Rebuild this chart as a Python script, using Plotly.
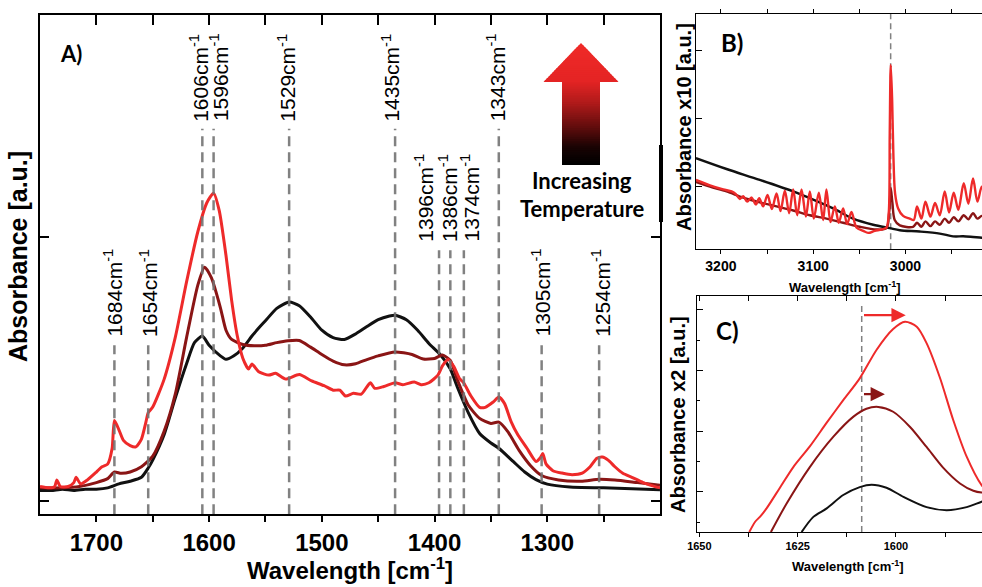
import plotly.graph_objects as go

W, H = 982, 587

# ---------------- DATA ----------------
# Panel A (1750-1200 cm-1)
a_black_wn = [1750, 1740, 1730, 1720, 1710, 1700, 1690, 1680, 1670, 1660, 1654, 1650, 1640, 1630, 1620, 1613, 1606,
              1600, 1590, 1585, 1578, 1570, 1562, 1555, 1550, 1540, 1529, 1520, 1510, 1500, 1490, 1480, 1470, 1460,
              1450, 1440, 1435, 1425, 1415, 1405, 1395, 1386, 1380, 1370, 1360, 1350, 1343, 1330, 1320, 1310, 1300,
              1280, 1250, 1225, 1200]
a_black_val = [0.04, 0.04, 0.045, 0.04, 0.045, 0.045, 0.05, 0.065, 0.075, 0.09, 0.125, 0.155, 0.25, 0.39, 0.52, 0.60,
               0.625, 0.59, 0.55, 0.537, 0.55, 0.58, 0.625, 0.66, 0.683, 0.73, 0.754, 0.74, 0.697, 0.647, 0.619, 0.612,
               0.633, 0.661, 0.687, 0.701, 0.704, 0.687, 0.647, 0.597, 0.555, 0.50, 0.434, 0.334, 0.256, 0.22, 0.20,
               0.149, 0.11, 0.081, 0.064, 0.053, 0.05, 0.047, 0.043]

a_dark_wn = [1750, 1730, 1715, 1700, 1690, 1684, 1678, 1670, 1660, 1650, 1640, 1630, 1620, 1610, 1604, 1598, 1590,
             1585, 1580, 1570, 1560, 1550, 1540, 1530, 1520, 1510, 1500, 1490, 1480, 1470, 1460, 1450, 1435, 1420,
             1410, 1400, 1393, 1386, 1380, 1370, 1360, 1350, 1343, 1335, 1325, 1315, 1305, 1290, 1270, 1254, 1240,
             1220, 1200]
a_dark_val = [0.05, 0.05, 0.055, 0.07, 0.085, 0.11, 0.105, 0.11, 0.13, 0.17, 0.263, 0.405, 0.619, 0.818, 0.886, 0.846,
              0.733, 0.647, 0.612, 0.593, 0.588, 0.59, 0.60, 0.607, 0.608, 0.583, 0.555, 0.53, 0.516, 0.52, 0.536,
              0.55, 0.565, 0.555, 0.538, 0.54, 0.553, 0.533, 0.462, 0.363, 0.313, 0.294, 0.299, 0.263, 0.192, 0.135,
              0.097, 0.08, 0.075, 0.083, 0.08, 0.07, 0.06]

a_red_wn = [1750, 1742, 1737, 1735, 1732, 1725, 1720, 1718, 1714, 1708, 1700, 1695, 1690, 1686, 1684, 1680, 1676,
            1670, 1665, 1660, 1656, 1654, 1650, 1640, 1630, 1620, 1610, 1602, 1596, 1591, 1585, 1580, 1575, 1570,
            1565, 1562, 1556, 1547, 1541, 1532, 1520, 1509, 1498, 1490, 1484, 1479, 1472, 1465, 1457, 1453, 1445,
            1435, 1428, 1418, 1412, 1405, 1397, 1393, 1388, 1383, 1378, 1374, 1368, 1360, 1355, 1348, 1343, 1338,
            1332, 1326, 1318, 1310, 1306, 1304, 1301, 1295, 1287, 1278, 1269, 1262, 1256, 1251, 1246, 1240, 1233,
            1225, 1215, 1203, 1200]
a_red_val = [0.055, 0.05, 0.055, 0.08, 0.055, 0.055, 0.07, 0.09, 0.065, 0.08, 0.11, 0.13, 0.14, 0.2, 0.305, 0.27,
             0.23, 0.21, 0.205, 0.235, 0.30, 0.335, 0.356, 0.46, 0.62, 0.83, 1.02, 1.13, 1.166, 1.10, 0.93, 0.76,
             0.626, 0.54, 0.50, 0.519, 0.49, 0.477, 0.484, 0.462, 0.479, 0.455, 0.437, 0.42, 0.42, 0.398, 0.408,
             0.405, 0.448, 0.427, 0.434, 0.448, 0.441, 0.451, 0.441, 0.448, 0.477, 0.512, 0.536, 0.51, 0.465, 0.447,
             0.40, 0.355, 0.355, 0.375, 0.394, 0.37, 0.30, 0.25, 0.20, 0.15, 0.165, 0.18, 0.14, 0.115, 0.106, 0.10,
             0.106, 0.13, 0.162, 0.167, 0.155, 0.13, 0.105, 0.09, 0.07, 0.053, 0.05]

peak_wn = [1684, 1654, 1606, 1596, 1529, 1435, 1396, 1386, 1374, 1343, 1305, 1254]
peak_labels = ["1684cm<sup>-1</sup>", "1654cm<sup>-1</sup>", "1606cm<sup>-1</sup>", "1596cm<sup>-1</sup>",
               "1529cm<sup>-1</sup>", "1435cm<sup>-1</sup>", "1396cm<sup>-1</sup>", "1386cm<sup>-1</sup>",
               "1374cm<sup>-1</sup>", "1343cm<sup>-1</sup>", "1305cm<sup>-1</sup>", "1254cm<sup>-1</sup>"]
peak_group = ["low", "low", "high", "high", "high", "high", "mid", "mid", "mid", "high", "low", "low"]

# Panel B (3227-2917 cm-1), absorbance x10
b_red_wn = [3227.1, 3211.9, 3197.5, 3188.4, 3183.8, 3179.4, 3175.8, 3171.5, 3166.8, 3162.1, 3158.5, 3154.2, 3149.5,
            3144.8, 3139.7, 3135.4, 3130.7, 3126.0, 3121.7, 3117.3, 3112.6, 3107.9, 3103.6, 3099.3, 3093.9, 3089.2,
            3085.6, 3081.2, 3076.5, 3072.2, 3067.5, 3063.2, 3058.5, 3053.1, 3045.8, 3040.4, 3033.2, 3026.0, 3020.6,
            3018.1, 3017.0, 3015.9, 3014.4, 3013.0, 3011.2, 3007.9, 3002.5, 2995.3, 2991.0, 2987.4, 2982.7, 2978.3,
            2972.9, 2967.9, 2962.8, 2957.4, 2952.7, 2947.7, 2942.6, 2936.8, 2931.8, 2926.7, 2922.0, 2917.3, 2913.0]
b_red_val = [1.09, 1.01, 0.95, 0.92, 0.88, 0.81, 0.85, 0.77, 0.83, 0.73, 0.82, 0.70, 0.87, 0.66, 0.89, 0.63, 0.93,
             0.60, 0.95, 0.57, 0.95, 0.55, 0.92, 0.52, 0.90, 0.50, 0.95, 0.47, 0.70, 0.46, 0.67, 0.44, 0.62, 0.39,
             0.34, 0.31, 0.34, 0.36, 0.39, 0.60, 1.78, 2.78, 2.27, 1.43, 0.89, 0.67, 0.56, 0.52, 0.50, 0.70, 0.52,
             0.77, 0.55, 0.75, 0.57, 0.92, 0.61, 0.90, 0.65, 1.04, 0.74, 1.11, 0.77, 0.99, 0.80]

b_dark_wn = [3227.1, 3211.9, 3193.9, 3175.8, 3157.8, 3139.7, 3121.7, 3103.6, 3085.6, 3067.5, 3049.5, 3031.4, 3020.6,
             3017.7, 3015.9, 3014.1, 3011.6, 3006.1, 2991.7, 2987.4, 2982.7, 2978.3, 2972.9, 2967.9, 2962.8, 2957.4,
             2952.7, 2947.7, 2942.6, 2936.8, 2931.8, 2926.7, 2922.0, 2917.3, 2913.0]
b_dark_val = [1.06, 0.99, 0.92, 0.83, 0.76, 0.70, 0.64, 0.57, 0.52, 0.46, 0.40, 0.36, 0.38, 0.60, 0.97, 0.75, 0.50,
              0.42, 0.40, 0.46, 0.40, 0.48, 0.41, 0.48, 0.43, 0.52, 0.46, 0.54, 0.48, 0.57, 0.51, 0.60, 0.52, 0.56,
              0.53]

b_black_wn = [3227.1, 3193.9, 3157.8, 3121.7, 3100.0, 3078.3, 3056.7, 3035.0, 3017.0, 3006.1, 2984.5, 2962.8,
              2948.4, 2937.5, 2926.7, 2917.3, 2913.0]
b_black_val = [1.41, 1.25, 1.09, 0.92, 0.80, 0.67, 0.52, 0.43, 0.38, 0.35, 0.33, 0.30, 0.26, 0.26, 0.25, 0.24, 0.24]

b_marker_wn = 3016

# Panel C (1650-1578 cm-1), absorbance x2
c_red_wn = [1637.3, 1635.8, 1634.6, 1632.9, 1629.5, 1626.1, 1621.9, 1617.6, 1613.4, 1609.2, 1604.9, 1600.7, 1597.7,
            1594.7, 1592.2, 1588.8, 1585.4, 1582.0, 1578.2, 1577.0]
c_red_val = [-0.66, -0.49, -0.41, -0.27, 0.07, 0.41, 0.75, 1.14, 1.51, 1.87, 2.34, 2.68, 2.80, 2.72, 2.45, 1.88,
             1.18, 0.58, 0.11, 0.03]
c_dark_wn = [1631.8, 1627.8, 1621.9, 1615.9, 1610.8, 1607.5, 1604.5, 1600.7, 1596.4, 1592.2, 1588.0, 1583.7, 1580.3,
             1578.2, 1577.0]
c_dark_val = [-0.66, -0.19, 0.41, 0.91, 1.24, 1.37, 1.40, 1.32, 1.07, 0.74, 0.40, 0.14, 0.02, -0.01, -0.01]
c_black_wn = [1624.0, 1621.0, 1617.6, 1613.4, 1609.2, 1606.2, 1602.4, 1598.1, 1592.2, 1587.1, 1582.0, 1578.2, 1577.0]
c_black_val = [-0.66, -0.41, -0.27, -0.05, 0.08, 0.12, 0.07, -0.08, -0.25, -0.30, -0.25, -0.16, -0.14]

c_marker_wn = 1608.7
c_shift_red = (1608.5, 1597.5)
c_shift_dark = (1608.5, 1602.8)

# ---------------- STYLE ----------------
RED = "#ee2a2a"
DARK = "#8a1515"
BLACK = "#111111"
GRAY = "rgba(115,115,115,0.9)"
ARIAL = "Liberation Sans"
CAL = "Lato"

label_xshift = [-1.5, 0, -4, 5, -3, -5, -15, -3, 6, -3, -1, 2]
levels = {"high": (1.41, 1.43), "mid": (0.95, 0.975), "low": (0.59, 0.615)}


def px(x):
    return x / W


def py(y):
    return 1 - y / H


fig = go.Figure()

# Panel A curves
for wn, val, col in [(a_black_wn, a_black_val, BLACK), (a_dark_wn, a_dark_val, DARK), (a_red_wn, a_red_val, RED)]:
    fig.add_trace(go.Scatter(x=wn, y=val, mode="lines", line=dict(color=col, width=3, shape="spline", smoothing=0.6),
                             xaxis="x", yaxis="y", showlegend=False, hoverinfo="skip"))

annotations = []
for wn, lab, grp, xs in zip(peak_wn, peak_labels, peak_group, label_xshift):
    top, lab_y = levels[grp]
    fig.add_trace(go.Scatter(x=[wn, wn], y=[-0.05, top], mode="lines",
                             line=dict(color=GRAY, width=2.5, dash="10px,6px"),
                             xaxis="x", yaxis="y", showlegend=False, hoverinfo="skip"))
    annotations.append(dict(x=wn, y=lab_y, xref="x", yref="y", text=lab, textangle=-90, showarrow=False,
                            xanchor="center", yanchor="bottom", xshift=xs,
                            font=dict(family=ARIAL, size=21, color="black")))

# Panel B curves
fig.add_trace(go.Scatter(x=[b_marker_wn, b_marker_wn], y=[0.07, 3.53], mode="lines",
                         line=dict(color=GRAY, width=1.5, dash="6px,4px"), xaxis="x2", yaxis="y2",
                         showlegend=False, hoverinfo="skip"))
for wn, val, col in [(b_black_wn, b_black_val, BLACK), (b_dark_wn, b_dark_val, DARK), (b_red_wn, b_red_val, RED)]:
    fig.add_trace(go.Scatter(x=wn, y=val, mode="lines", line=dict(color=col, width=2.4, shape="spline", smoothing=0.9),
                             xaxis="x2", yaxis="y2", showlegend=False, hoverinfo="skip"))

# Panel C curves
fig.add_trace(go.Scatter(x=[c_marker_wn, c_marker_wn], y=[-0.66, 3.12], mode="lines",
                         line=dict(color=GRAY, width=1.5, dash="6px,4px"), xaxis="x3", yaxis="y3",
                         showlegend=False, hoverinfo="skip"))
for wn, val, col in [(c_black_wn, c_black_val, BLACK), (c_dark_wn, c_dark_val, DARK), (c_red_wn, c_red_val, RED)]:
    fig.add_trace(go.Scatter(x=wn, y=val, mode="lines", line=dict(color=col, width=2, shape="spline", smoothing=0.8),
                             xaxis="x3", yaxis="y3", showlegend=False, hoverinfo="skip"))

# dummy traces for top-tick overlay axes
fig.add_trace(go.Scatter(x=[None], y=[None], xaxis="x4", yaxis="y", showlegend=False, hoverinfo="skip"))
fig.add_trace(go.Scatter(x=[None], y=[None], xaxis="x5", yaxis="y3", showlegend=False, hoverinfo="skip"))

# Shift arrows in C
for (x0, x1), yv, col in [(c_shift_red, 2.91, RED), (c_shift_dark, 1.61, DARK)]:
    annotations.append(dict(x=x1, y=yv, ax=x0, ay=yv, xref="x3", yref="y3", axref="x3", ayref="y3", text="",
                            showarrow=True, arrowhead=2, arrowsize=1.3, arrowwidth=2.2, arrowcolor=col))


def bold_ar(s):
    return dict(family=ARIAL, size=s, color="black", weight="bold")


def bold_cal(s):
    return dict(family=CAL, size=s, color="black", weight="bold")


def txt(x, y, text, font, angle=0):
    return dict(x=px(x), y=py(y), xref="paper", yref="paper", text=text, textangle=angle, showarrow=False,
                xanchor="center", yanchor="middle", font=font)


annotations += [
    txt(350, 569, "Wavelength [cm<sup>-1</sup>]", bold_ar(24)),
    txt(18, 257, "Absorbance [a.u.]", bold_ar(25), -90),
    txt(71, 54, "A)", bold_cal(22)),
    txt(582, 180, "Increasing", bold_cal(22)),
    txt(582, 208, "Temperature", bold_cal(22)),
    txt(732, 43, "B)", bold_cal(24)),
    txt(684, 127, "Absorbance x10 [a.u.]", bold_ar(20), -90),
    txt(845, 287, "Wavelength [cm<sup>-1</sup>]", bold_ar(13)),
    txt(727, 330, "C)", bold_cal(24)),
    txt(678, 415, "Absorbance x2 [a.u.]", bold_ar(20), -90),
    txt(848, 566, "Wavelength [cm<sup>-1</sup>]", bold_ar(13)),
]

# Gradient arrow (shapes)
shapes = []
stops = [(0.0, (240, 42, 40)), (0.32, (228, 36, 36)), (0.5, (175, 26, 26)), (0.7, (95, 12, 12)),
         (0.86, (25, 3, 3)), (1.0, (0, 0, 0))]


def grad(t):
    for (t0, c0), (t1, c1) in zip(stops[:-1], stops[1:]):
        if t <= t1:
            f = (t - t0) / (t1 - t0) if t1 > t0 else 0
            return "rgb(%d,%d,%d)" % tuple(round(a + (b - a) * f) for a, b in zip(c0, c1))
    return "rgb(0,0,0)"


tip_x, tip_y, base_y, half_w = 581, 43, 82, 37.5
sh_l, sh_r, sh_b = 562, 600, 165
total = sh_b - tip_y
n_head = 20
for i in range(n_head):
    y0 = tip_y + (base_y - tip_y) * i / n_head
    y1 = min(tip_y + (base_y - tip_y) * (i + 1) / n_head + 1.2, base_y)
    w0 = half_w * (y0 - tip_y) / (base_y - tip_y)
    w1 = half_w * (y1 - tip_y) / (base_y - tip_y)
    col = grad(((y0 + y1) / 2 - tip_y) / total)
    path = "M %f,%f L %f,%f L %f,%f L %f,%f Z" % (px(tip_x - w0), py(y0), px(tip_x + w0), py(y0),
                                                 px(tip_x + w1), py(y1), px(tip_x - w1), py(y1))
    shapes.append(dict(type="path", path=path, xref="paper", yref="paper", fillcolor=col, line=dict(width=0)))
n_sh = 45
for i in range(n_sh):
    y0 = base_y + (sh_b - base_y) * i / n_sh
    y1 = base_y + (sh_b - base_y) * (i + 1) / n_sh + 1.5
    col = grad(((y0 + y1) / 2 - tip_y) / total)
    shapes.append(dict(type="rect", x0=px(sh_l), x1=px(sh_r), y0=py(y0), y1=py(min(y1, sh_b)),
                       xref="paper", yref="paper", fillcolor=col, line=dict(width=0)))

# thick segment on right frame of A
shapes.append(dict(type="line", x0=px(661), x1=px(661), y0=py(145), y1=py(222), xref="paper", yref="paper",
                   line=dict(color="black", width=4)))

axis_common = dict(showline=True, linecolor="black", showgrid=False, zeroline=False, tickcolor="black")

fig.update_layout(
    width=W, height=H, margin=dict(l=0, r=0, t=0, b=0),
    plot_bgcolor="white", paper_bgcolor="white", showlegend=False,
    xaxis=dict(domain=[px(40), px(660)], range=[1750, 1200], anchor="y", mirror=True, linewidth=1.6,
               ticks="outside", ticklen=6, tickwidth=1.6, tickmode="array",
               tickvals=[1700, 1600, 1500, 1400, 1300],
               minor=dict(ticks="outside", ticklen=6, tickmode="array",
                          tickvals=[1650, 1550, 1450, 1350, 1250], tickcolor="black", tickwidth=1.6),
               tickfont=bold_ar(24), automargin=False, **axis_common),
    xaxis4=dict(overlaying="x", side="top", range=[1750, 1200], anchor="y", showline=False, showgrid=False,
                zeroline=False, ticks="inside", ticklen=10, tickwidth=1.6, tickcolor="black", tick0=1300, dtick=50,
                showticklabels=False),
    yaxis=dict(domain=[py(514), py(15)], range=[-0.049, 1.841], anchor="x", mirror="ticks", linewidth=1.6,
               ticks="inside", ticklen=9, tickwidth=1.6, tick0=0, dtick=1, showticklabels=False,
               automargin=False, **axis_common),
    xaxis2=dict(domain=[px(696), 1.0], range=[3227, 2917], anchor="y2", mirror="ticks", linewidth=1.2,
                ticks="outside", ticklen=4, tickwidth=1.2, tick0=3000, dtick=100,
                minor=dict(ticks="outside", ticklen=4, dtick=50, tick0=3000, tickcolor="black", tickwidth=1.2),
                tickfont=bold_ar(14), automargin=False, **axis_common),
    yaxis2=dict(domain=[py(249), py(14)], range=[0.0735, 3.53], anchor="x2", linewidth=1.2,
                ticks="inside", ticklen=6, tickwidth=1.2, tick0=0, dtick=1, showticklabels=False,
                automargin=False, **axis_common),
    xaxis3=dict(domain=[px(697), 1.0], range=[1650.6, 1578.1], anchor="y3", mirror=True, linewidth=1.2,
                ticks="outside", ticklen=4, tickwidth=1.2, tick0=1650, dtick=25,
                minor=dict(ticks="outside", ticklen=4, dtick=12.5, tick0=1650, tickcolor="black", tickwidth=1.2),
                tickfont=bold_ar(11), automargin=False, **axis_common),
    xaxis5=dict(overlaying="x3", side="top", range=[1650.6, 1578.1], anchor="y3", showline=False, showgrid=False,
                zeroline=False, ticks="inside", ticklen=5, tickwidth=1.2, tickcolor="black", tick0=1650,
                dtick=12.5, showticklabels=False),
    yaxis3=dict(domain=[py(532), py(296)], range=[-0.659, 3.225], anchor="x3", linewidth=1.2,
                ticks="inside", ticklen=6, tickwidth=1.2, tick0=0, dtick=1, showticklabels=False,
                minor=dict(ticks="inside", ticklen=3, dtick=0.5, tick0=0, tickcolor="black", tickwidth=1.2),
                automargin=False, **axis_common),
    annotations=annotations,
    shapes=shapes,
)

fig.write_html("out.html", config={"displayModeBar": False},
               post_script="document.body.style.margin='0px';document.body.style.padding='0px';")
